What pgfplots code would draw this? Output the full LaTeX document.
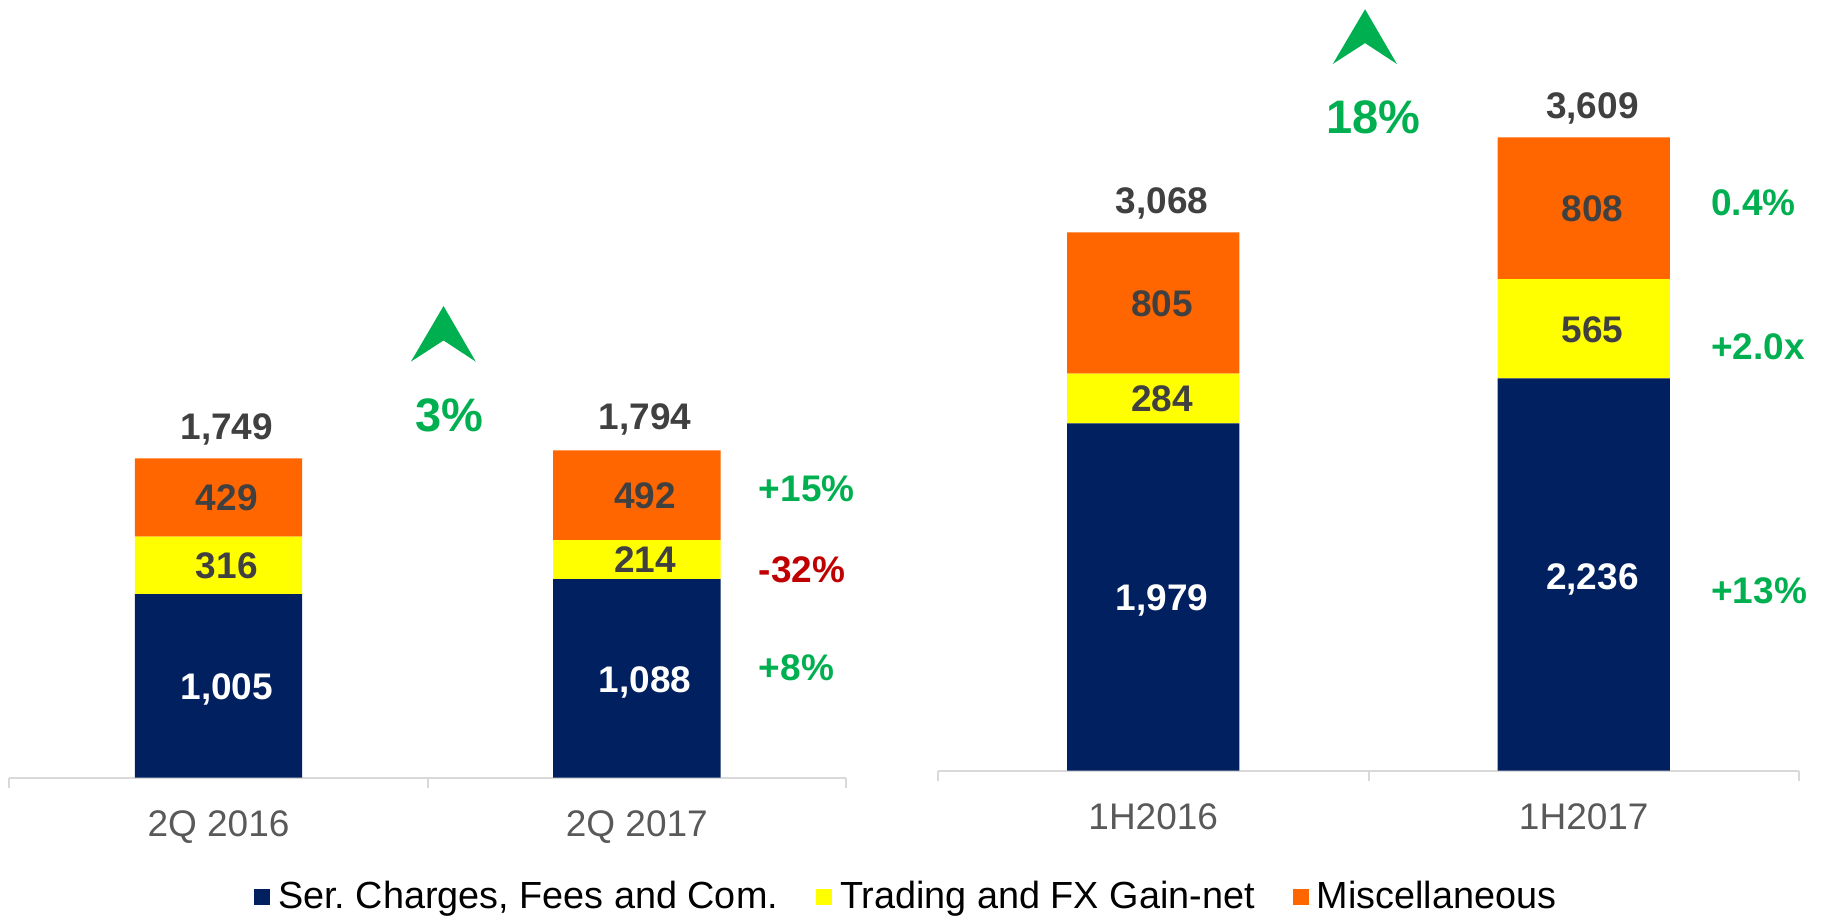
\documentclass[border=0pt]{standalone}
\usepackage{fontspec}
\setmainfont{Liberation Sans}
\usepackage{pgfplots}
\pgfplotsset{compat=1.18}

\definecolor{navy}{HTML}{002060}
\definecolor{yel}{HTML}{FFFF00}
\definecolor{orn}{HTML}{FF6600}
\definecolor{grn}{HTML}{00B050}
\definecolor{rd}{HTML}{C00000}
\definecolor{lbl}{HTML}{404040}
\definecolor{tck}{HTML}{595959}
\definecolor{axl}{HTML}{D9D9D9}

\newcommand\fs{\fontsize{18.5}{22}\selectfont}
\newcommand\fl{\fontsize{18.9}{22}\selectfont}
\newcommand\fb{\fontsize{23.5}{28}\selectfont}

\pgfplotsset{
  frame/.style={
    scale only axis, clip=false,
    xmin=-0.5, xmax=1.5, ymin=0, enlargelimits=false,
  },
  panel/.style={frame,
    ybar stacked, bar width=0.4,
    axis x line*=bottom, axis y line=none,
    x axis line style={axl, line width=1pt},
    xtick={0,1}, major tick length=0pt,
    minor xtick={-0.5,0.5,1.5}, minor tick length=5pt, tick align=outside,
    minor tick style={axl, line width=1pt},
    xticklabel style={font=\fs, text=tck, anchor=base, yshift=-29.4pt},
  },
  overlay/.style={frame, hide axis},
}
\tikzset{
  val/.style={font=\fs\bfseries, text=lbl, anchor=base, yshift=-6.7pt},
  valw/.style={val, text=white},
  gr/.style={font=\fs\bfseries, text=grn, anchor=base west, yshift=-6.7pt},
  big/.style={font=\fb\bfseries, text=grn, anchor=base, yshift=-8.5pt},
}

\begin{document}
\frenchspacing
\begin{tikzpicture}
\path[use as bounding box] (0,0) rectangle (912.5pt,461.5pt);

% quarter: bars
\begin{axis}[panel,
  at={(4.65pt,72.75pt)}, anchor=south west,
  width=418.35pt, height=273.6pt, ymax=3000,
  xticklabels={2Q 2016, 2Q 2017},
  legend columns=3,
  legend style={draw=none, fill=none, font=\fl, inner sep=0pt,
    at={(0.292,-0.218)}, anchor=west,
    /tikz/every odd column/.style={column sep=2pt},
    /tikz/every even column/.style={column sep=17pt}},
  legend image code/.code={\fill[#1, draw=none] (0pt,-4pt) rectangle (8pt,4pt);},
]
\addplot[fill=navy, draw=none] coordinates {(0,1005) (1,1088)};
\addlegendentry{Ser.\ Charges, Fees and Com.}
\addplot[fill=yel, draw=none] coordinates {(0,316) (1,214)};
\addlegendentry{Trading and FX Gain-net}
\addplot[fill=orn, draw=none] coordinates {(0,429) (1,492)};
\addlegendentry{Miscellaneous}
\end{axis}

% quarter: labels
\begin{axis}[overlay,
  at={(4.65pt,72.75pt)}, anchor=south west,
  width=418.35pt, height=273.6pt, ymax=3000,
]
\node[valw] at (axis cs:0.02,502.5) {1,005};
\node[val] at (axis cs:0.02,1163) {316};
\node[val] at (axis cs:0.02,1535.5) {429};
\node[valw] at (axis cs:1.02,537) {1,088};
\node[val] at (axis cs:1.02,1195) {214};
\node[val] at (axis cs:1.02,1548) {492};
\node[val] at (axis cs:0.02,1927) {1,749};
\node[val] at (axis cs:1.02,1979) {1,794};

\node[gr] at (axis cs:1.275,1589) {+15\%};
\node[gr, text=rd] at (axis cs:1.275,1142) {-32\%};
\node[gr] at (axis cs:1.275,606) {+8\%};

\fill[grn] (axis cs:0.538,2585) -- (axis cs:0.615,2280) -- (axis cs:0.538,2396)
  -- (axis cs:0.460,2280) -- cycle;
\node[big] at (axis cs:0.552,1991) {3\%};
\end{axis}

% half year: bars
\begin{axis}[panel,
  at={(469pt,76.25pt)}, anchor=south west,
  width=430.5pt, height=350.8pt, ymax=4000,
  xticklabels={1H2016, 1H2017},
]
\addplot[fill=navy, draw=none] coordinates {(0,1979) (1,2236)};
\addplot[fill=yel, draw=none] coordinates {(0,284) (1,565)};
\addplot[fill=orn, draw=none] coordinates {(0,805) (1,808)};
\end{axis}

% half year: labels
\begin{axis}[overlay,
  at={(469pt,76.25pt)}, anchor=south west,
  width=430.5pt, height=350.8pt, ymax=4000,
]
\node[valw] at (axis cs:0.02,989.5) {1,979};
\node[val] at (axis cs:0.02,2121) {284};
\node[val] at (axis cs:0.02,2665.5) {805};
\node[valw] at (axis cs:1.02,1110) {2,236};
\node[val] at (axis cs:1.02,2518.5) {565};
\node[val] at (axis cs:1.02,3205) {808};
\node[val] at (axis cs:0.02,3251) {3,068};
\node[val] at (axis cs:1.02,3795) {3,609};

\node[gr] at (axis cs:1.28,3238) {0.4\%};
\node[gr] at (axis cs:1.28,2422) {+2.0x};
\node[gr] at (axis cs:1.28,1028) {+13\%};

\fill[grn] (axis cs:0.492,4340) -- (axis cs:0.566,4028) -- (axis cs:0.492,4147)
  -- (axis cs:0.417,4028) -- cycle;
\node[big] at (axis cs:0.511,3729) {18\%};
\end{axis}
\end{tikzpicture}
\end{document}
